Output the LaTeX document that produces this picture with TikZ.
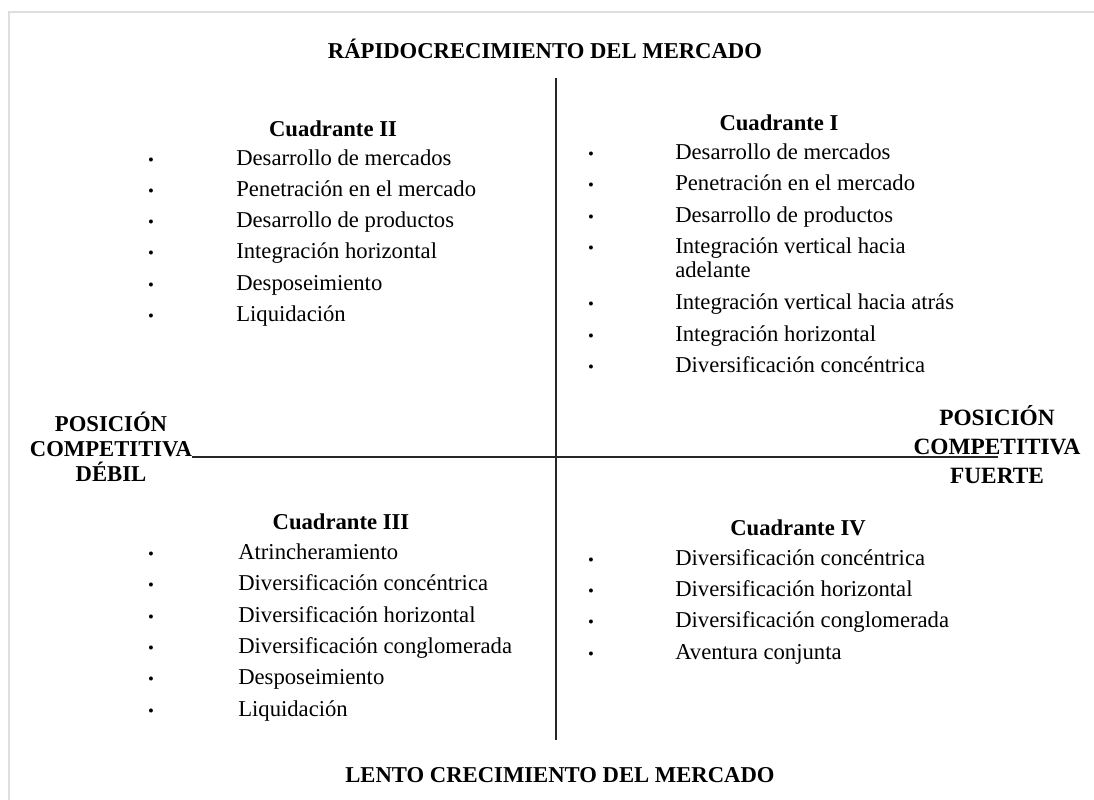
\documentclass[tikz,border=0pt]{standalone}
\usepackage{fontspec}
\setmainfont{Liberation Serif}
\usetikzlibrary{positioning,calc}
\tikzstyle{frame line}=[draw=black!13, line width=2pt]
\tikzstyle{axis line}=[draw=black!85, line width=1.1pt]
\tikzstyle{heading}=[inner sep=0pt, font=\fontsize{17}{20}\selectfont\bfseries]
\tikzstyle{side label}=[heading, align=center, font=\fontsize{17}{18.8}\selectfont\bfseries]
\tikzstyle{item}=[anchor=west, inner sep=0pt, text height=12pt, text depth=4pt,
  font=\fontsize{17}{19}\selectfont]
\tikzstyle{dot}=[item, anchor=center, font=\fontsize{12.5}{14}\selectfont]

\begin{document}
\begin{tikzpicture}[x=0.75pt,y=-0.75pt]
\useasboundingbox (0,0) rectangle (1094,799);
\draw[frame line] (9,800) -- (9,12) -- (1095,12);

\node[heading] (fast) at (545,49) {RÁPIDOCRECIMIENTO DEL MERCADO};
\node[heading] (slow) at (560,775) {LENTO CRECIMIENTO DEL MERCADO};
\node[side label] (weak) at (111,447) {POSICIÓN\\COMPETITIVA\\DÉBIL};
\node[side label, font=\fontsize{17.5}{21.8}\selectfont\bfseries] (strong) at (997,445)
{POSICIÓN\\COMPETITIVA\\FUERTE};

\coordinate (north) at (556,78);
\coordinate (south) at (556,740);
\coordinate (west) at ($(weak.east)+(0,10)$);
\coordinate (east) at (998,457);
\draw[axis line] (north) -- (south);
\draw[axis line] (west |- east) -- (east);

% Cuadrante II
\node[heading] (q2) at (333,129) {Cuadrante II};
\draw (151,160) node[dot] (b21) {•} ++(85,0) node[item] (i21) {Desarrollo de mercados};
\draw (b21) ++(0,31.2) node[dot] (b22) {•} ++(85,0) node[item] (i22) {Penetración en el mercado};
\draw (b22) ++(0,31.2) node[dot] (b23) {•} ++(85,0) node[item] (i23) {Desarrollo de productos};
\draw (b23) ++(0,31.2) node[dot] (b24) {•} ++(85,0) node[item] (i24) {Integración horizontal};
\draw (b24) ++(0,31.2) node[dot] (b25) {•} ++(85,0) node[item] (i25) {Desposeimiento};
\draw (b25) ++(0,31.2) node[dot] (b26) {•} ++(85,0) node[item] (i26) {Liquidación};

% Cuadrante I
\node[heading] (q1) at (779,123) {Cuadrante I};
\draw (591,154) node[dot] (b11) {•} ++(84,0) node[item] (i11) {Desarrollo de mercados};
\draw (b11) ++(0,31.5) node[dot] (b12) {•} ++(84,0) node[item] (i12) {Penetración en el mercado};
\draw (b12) ++(0,31.5) node[dot] (b13) {•} ++(84,0) node[item] (i13) {Desarrollo de productos};
\draw (b13) ++(0,31.5) node[dot] (b14) {•} ++(84,0) node[item] (i14) {Integración vertical hacia};
\draw (i14.west) ++(0,24) node[item] (i14b) {adelante};
\draw (b14) ++(0,56) node[dot] (b15) {•} ++(84,0) node[item] (i15) {Integración vertical hacia atrás};
\draw (b15) ++(0,31.5) node[dot] (b16) {•} ++(84,0) node[item] (i16) {Integración horizontal};
\draw (b16) ++(0,31.5) node[dot] (b17) {•} ++(84,0) node[item] (i17) {Diversificación concéntrica};

% Cuadrante III
\node[heading] (q3) at (341,522) {Cuadrante III};
\draw (151,554) node[dot] (b31) {•} ++(87,0) node[item] (i31) {Atrincheramiento};
\draw (b31) ++(0,31.4) node[dot] (b32) {•} ++(87,0) node[item] (i32) {Diversificación concéntrica};
\draw (b32) ++(0,31.4) node[dot] (b33) {•} ++(87,0) node[item] (i33) {Diversificación horizontal};
\draw (b33) ++(0,31.4) node[dot] (b34) {•} ++(87,0) node[item] (i34) {Diversificación conglomerada};
\draw (b34) ++(0,31.4) node[dot] (b35) {•} ++(87,0) node[item] (i35) {Desposeimiento};
\draw (b35) ++(0,31.4) node[dot] (b36) {•} ++(87,0) node[item] (i36) {Liquidación};

% Cuadrante IV
\node[heading] (q4) at (798,528) {Cuadrante IV};
\draw (591,560) node[dot] (b41) {•} ++(84,0) node[item] (i41) {Diversificación concéntrica};
\draw (b41) ++(0,31.3) node[dot] (b42) {•} ++(84,0) node[item] (i42) {Diversificación horizontal};
\draw (b42) ++(0,31.3) node[dot] (b43) {•} ++(84,0) node[item] (i43) {Diversificación conglomerada};
\draw (b43) ++(0,31.3) node[dot] (b44) {•} ++(84,0) node[item] (i44) {Aventura conjunta};

\end{tikzpicture}
\end{document}
